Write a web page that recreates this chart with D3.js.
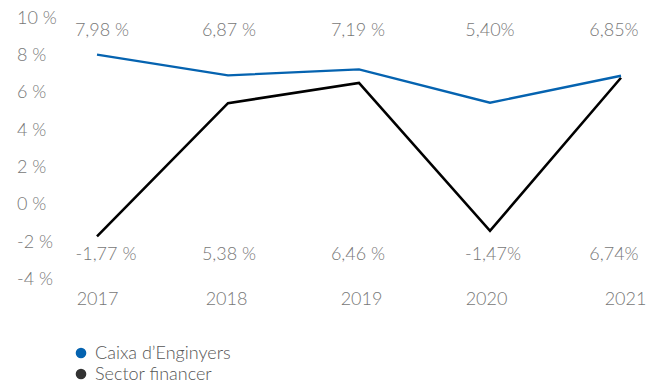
<!DOCTYPE html>
<html>
<head>
<meta charset="utf-8">
<script src="https://cdn.jsdelivr.net/npm/d3@7"></script>
<style>
  html, body { margin: 0; padding: 0; background: #fff; }
  svg { display: block; font-family: Lato, "Open Sans", sans-serif; font-weight: 300; }
</style>
</head>
<body>
<svg id="chart" width="651" height="386"></svg>
<script>
// Rendibilitat anual: Caixa d'Enginyers vs sector financer
const years = ["2017", "2018", "2019", "2020", "2021"];
const caixaValues = [7.98, 6.87, 7.19, 5.40, 6.85];
const sectorValues = [-1.77, 5.38, 6.46, -1.47, 6.74];
const caixaLabels = ["7,98 %", "6,87 %", "7,19 %", "5,40%", "6,85%"];
const sectorLabels = ["-1,77 %", "5,38 %", "6,46 %", "-1,47%", "6,74%"];
const yTicks = [-4, -2, 0, 2, 4, 6, 8, 10];
const seriesNames = ["Caixa d\u2019Enginyers", "Sector financer"];

const textColor = "#777777";
const blue = "#0563b0";
const black = "#000000";
const fontSize = 18;

const svg = d3.select("#chart");

const x = d3.scalePoint().domain(years).range([97, 621]);
const y = d3.scaleLinear().domain([-4, 10]).range([278, 17]);

// Y axis: labels only, no line or ticks
const yAxis = d3.axisLeft(y)
  .tickValues(yTicks)
  .tickSize(0)
  .tickPadding(0)
  .tickFormat(d => d + " %");
const yG = svg.append("g").attr("transform", "translate(72,0)").call(yAxis);
yG.select(".domain").remove();
yG.selectAll("text")
  .attr("font-family", "Lato, sans-serif")
  .attr("font-weight", 300)
  .attr("font-size", fontSize)
  .attr("fill", textColor)
  .attr("text-anchor", "start")
  .attr("x", -55)
  .attr("dy", "0.35em");

// X axis: year labels under the plot
const xAxis = d3.axisBottom(x).tickSize(0).tickPadding(0);
const xG = svg.append("g").attr("transform", "translate(0,299)").call(xAxis);
xG.select(".domain").remove();
xG.selectAll("text")
  .attr("font-family", "Lato, sans-serif")
  .attr("font-weight", 300)
  .attr("font-size", fontSize)
  .attr("fill", textColor)
  .attr("dy", "0.35em")
  .attr("y", 0)
  .attr("x", (d, i) => [0, -2, 2, -4, 4][i]);

// Lines
const line = vals => d3.line()
  .x((d, i) => x(years[i]))
  .y(d => y(d))(vals);

svg.append("path")
  .attr("d", line(sectorValues))
  .attr("fill", "none")
  .attr("stroke", black)
  .attr("stroke-width", 2.6)
  .attr("stroke-linejoin", "miter");

svg.append("path")
  .attr("d", line(caixaValues))
  .attr("fill", "none")
  .attr("stroke", blue)
  .attr("stroke-width", 2.4)
  .attr("stroke-linejoin", "miter");

// Value labels: one row above the plot, one row below
const labelRow = (labels, rowY, offsets) => {
  svg.append("g").selectAll("text")
    .data(labels)
    .join("text")
    .attr("x", (d, i) => x(years[i]) + offsets[i])
    .attr("y", rowY)
    .attr("dy", "0.35em")
    .attr("text-anchor", "middle")
    .attr("font-size", fontSize)
    .attr("fill", textColor)
    .text(d => d);
};
labelRow(caixaLabels, 30, [5, 1, -1, 0, -7]);
labelRow(sectorLabels, 254, [9, 1, -1, 3, -7]);

// Legend
const legend = svg.append("g");
const legendColors = [blue, "#333333"];
seriesNames.forEach((name, i) => {
  const ly = 353 + i * 21;
  legend.append("circle")
    .attr("cx", 81).attr("cy", ly).attr("r", 5.3)
    .attr("fill", legendColors[i]);
  legend.append("text")
    .attr("x", 95).attr("y", ly)
    .attr("dy", "0.35em")
    .attr("font-size", 18)
    .attr("fill", "#555555")
    .text(name);
});
</script>
</body>
</html>
